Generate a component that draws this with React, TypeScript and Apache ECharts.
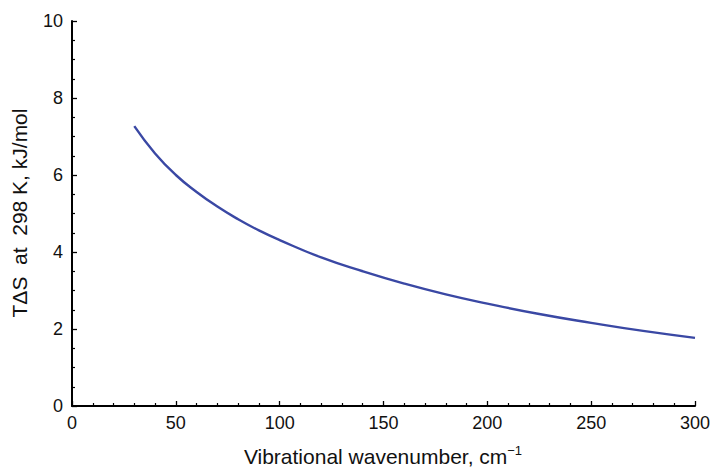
import React, { useEffect, useRef } from "react";
import * as echarts from "echarts";

const wavenumbers = [30, 40, 50, 60, 70, 80, 90, 100, 120, 140, 160, 180, 200, 225, 250, 275, 300];
const tdsValues = [7.27, 6.56, 6.0, 5.56, 5.18, 4.85, 4.56, 4.31, 3.86, 3.5, 3.18, 2.9, 2.66, 2.39, 2.16, 1.95, 1.77];
const xTitle = "Vibrational wavenumber, cm";
const xTitleSup = "−1";
const yTitle = "TΔS  at  298 K, kJ/mol";

export default function App() {
  const ref = useRef<HTMLDivElement>(null);
  useEffect(() => {
    if (!ref.current) return;
    const chart = echarts.init(ref.current, null, { renderer: "svg" });
    const font = "Liberation Sans, Arial, Helvetica, sans-serif";
    chart.setOption({
      animation: false,
      backgroundColor: "#ffffff",
      grid: { left: 72, right: 15, top: 21, bottom: 62, containLabel: false, outerBoundsMode: "none" },
      graphic: [
        {
          type: "text",
          x: 383,
          y: 456,
          style: {
            text: xTitle + "{sup|" + xTitleSup + "}",
            fontFamily: font,
            fontSize: 21,
            fill: "#111",
            align: "center",
            verticalAlign: "middle",
            rich: { sup: { fontFamily: font, fontSize: 13, fill: "#111", padding: [0, 0, 12, 0] } },
          },
        },
        {
          type: "text",
          x: 19,
          y: 213,
          rotation: Math.PI / 2,
          style: {
            text: yTitle,
            fontFamily: font,
            fontSize: 21,
            fill: "#111",
            align: "center",
            verticalAlign: "middle",
          },
        },
      ],
      xAxis: {
        type: "value",
        min: 0,
        max: 300,
        interval: 50,
        axisLine: { show: true, onZero: false, lineStyle: { color: "#000", width: 2 } },
        axisTick: { show: true, inside: true, length: 5, lineStyle: { color: "#000", width: 1.3 } },
        minorTick: { show: true, splitNumber: 5, length: 3, lineStyle: { color: "#000", width: 1.2 } },
        axisLabel: { fontFamily: font, fontSize: 18, color: "#111", margin: 8 },
        splitLine: { show: false },
      },
      yAxis: {
        type: "value",
        min: 0,
        max: 10,
        interval: 2,
        axisLine: { show: true, onZero: false, lineStyle: { color: "#000", width: 2 } },
        axisTick: { show: true, inside: true, length: 5, lineStyle: { color: "#000", width: 1.3 } },
        minorTick: { show: true, splitNumber: 4, length: 3, lineStyle: { color: "#000", width: 1.2 } },
        axisLabel: { fontFamily: font, fontSize: 18, color: "#111", margin: 9 },
        splitLine: { show: false },
      },
      series: [
        {
          type: "line",
          data: wavenumbers.map((w, i) => [w, tdsValues[i]]),
          smooth: true,
          showSymbol: false,
          lineStyle: { color: "#3a48a4", width: 2.4 },
        },
      ],
    });
    return () => chart.dispose();
  }, []);
  return <div ref={ref} style={{ position: "absolute", left: 0, top: 0, width: 710, height: 468 }} />;
}
